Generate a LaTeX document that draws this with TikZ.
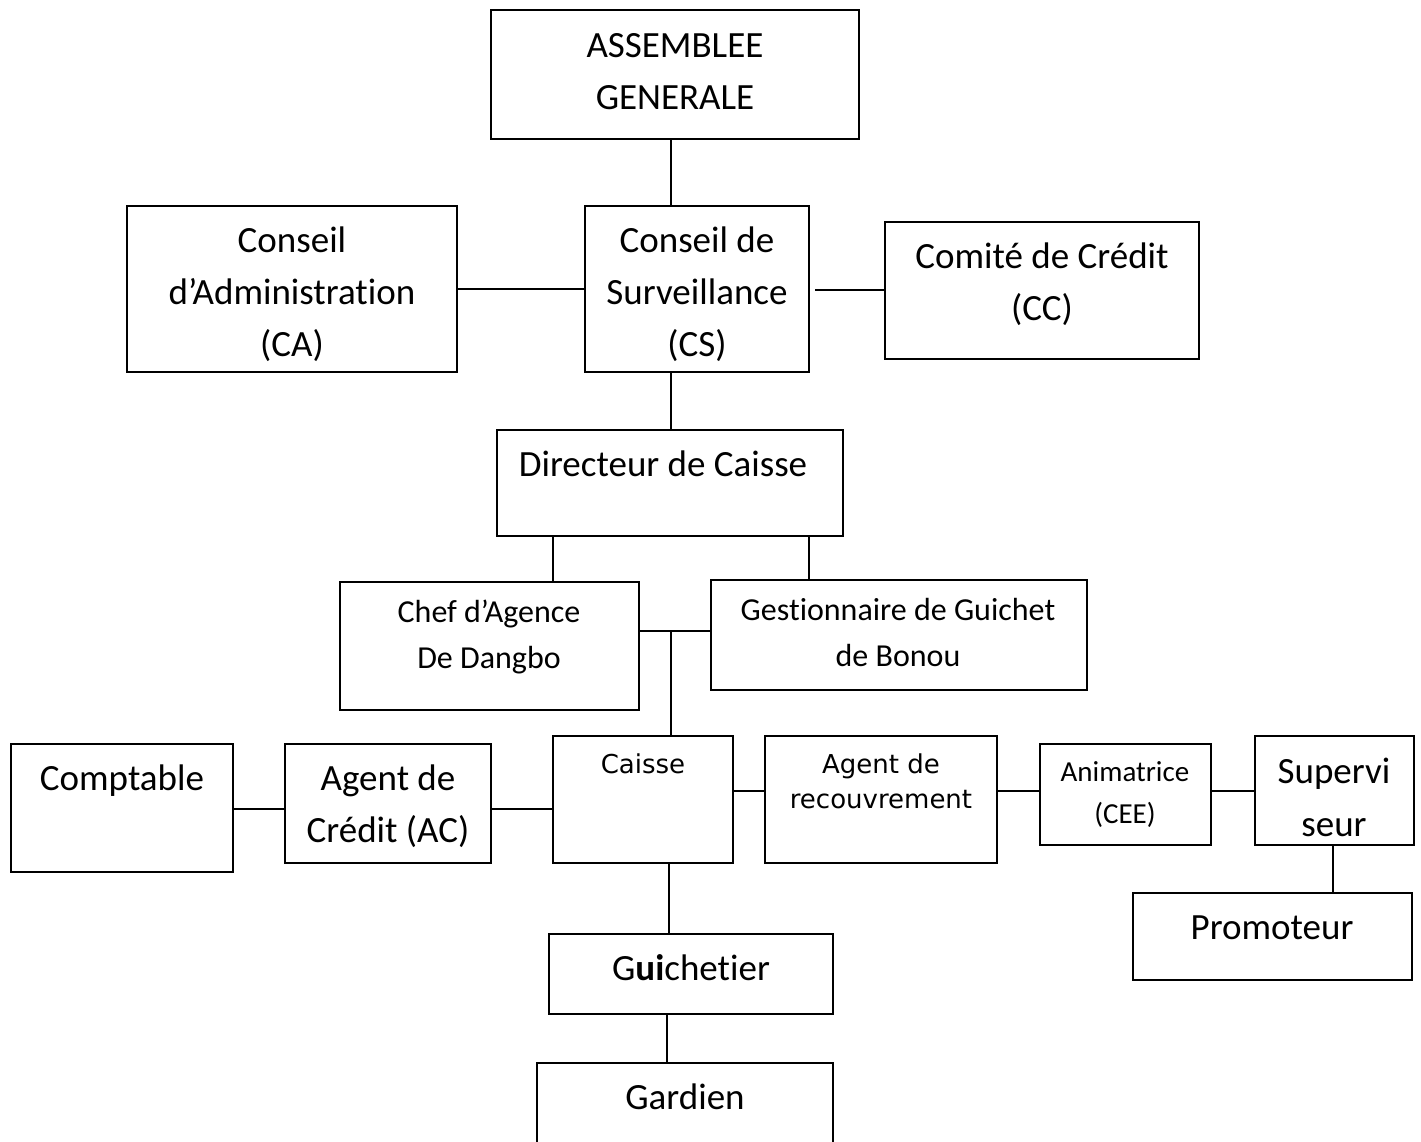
\documentclass[tikz,border=0pt]{standalone}
\usepackage{fontspec}
\newfontfamily\calfnt[Ligatures=NoCommon]{Carlito}
\newfontfamily\verfnt{DejaVu Sans}
\begin{document}
\begin{tikzpicture}[x=0.5pt,y=-0.5pt,
  box/.style={draw=black,line width=1pt,rectangle,inner sep=0pt,outer sep=0pt},
  conn/.style={draw=black,line width=1pt},
  big/.style={anchor=base,inner sep=0pt,font=\calfnt\fontsize{18.5}{22}\selectfont},
  mid/.style={anchor=base,inner sep=0pt,font=\calfnt\fontsize{16}{20}\selectfont},
  sml/.style={anchor=base,inner sep=0pt,font=\calfnt\fontsize{14.5}{18}\selectfont},
  ver/.style={anchor=base,inner sep=0pt,font=\verfnt\fontsize{13}{16}\selectfont}]
\newcommand{\mybox}[5]{\node[box,minimum width={(#4-#2)*0.5pt},minimum height={(#5-#3)*0.5pt}] (#1) at ({(#2+#4)/2},{(#3+#5)/2}) {};}
\fill[white] (0,0) rectangle (1421,1142);
\useasboundingbox (0,0) rectangle (1421,1142);
% boxes
\mybox{ag}{491}{10}{859}{139}
\mybox{ca}{127}{206}{457}{372}
\mybox{cs}{585}{206}{809}{372}
\mybox{cc}{885}{222}{1199}{359}
\mybox{dc}{497}{430}{843}{536}
\mybox{cad}{340}{582}{639}{710}
\mybox{ggb}{711}{580}{1087}{690}
\mybox{comp}{11}{744}{233}{872}
\mybox{ac}{285}{744}{491}{863}
\mybox{caisse}{553}{736}{733}{863}
\mybox{ar}{765}{736}{997}{863}
\mybox{anim}{1040}{744}{1211}{845}
\mybox{sup}{1255}{736}{1414}{845}
\mybox{prom}{1133}{893}{1412}{980}
\mybox{gui}{549}{934}{833}{1014}
\mybox{gar}{537}{1063}{833}{1170}
% texts
\node[big] (tag1) at (675,57) {ASSEMBLEE};
\node[big] (tag2) at (675,109) {GENERALE};
\node[big] (tca1) at (292,252) {Conseil};
\node[big] (tca2) at (292,304) {d’Administration};
\node[big] (tca3) at (292,356) {(CA)};
\node[big] (tcs1) at (697,252) {Conseil de};
\node[big] (tcs2) at (697,304) {Surveillance};
\node[big] (tcs3) at (697,356) {(CS)};
\node[big] (tcc1) at (1042,268) {Comité de Crédit};
\node[big] (tcc2) at (1042,320) {(CC)};
\node[big] (tdc) at (663,476) {Directeur de Caisse};
\node[mid] (tcad1) at (489,622) {Chef d’Agence};
\node[mid] (tcad2) at (489,668) {De Dangbo};
\node[mid] (tggb1) at (898,620) {Gestionnaire de Guichet};
\node[mid] (tggb2) at (898,666) {de Bonou};
\node[big] (tcomp) at (122,790) {Comptable};
\node[big] (tac1) at (388,790) {Agent de};
\node[big] (tac2) at (388,842) {Crédit (AC)};
\node[ver] (tcaisse) at (643,773) {Caisse};
\node[ver] (tar1) at (881,773) {Agent de};
\node[ver] (tar2) at (881,808) {recouvrement};
\node[sml] (tan1) at (1125,781) {Animatrice};
\node[sml] (tan2) at (1125,823) {(CEE)};
\node[big] (tsup1) at (1334,783) {Supervi};
\node[big] (tsup2) at (1334,836) {seur};
\node[big] (tprom) at (1272,939) {Promoteur};
\node[big] (tgui) at (691,980) {G\textbf{ui}chetier};
\node[big] (tgar) at (685,1109) {Gardien};
% connector coordinates
\coordinate (v1) at (671,0);
\coordinate (v2) at (553,0);
\coordinate (v3) at (809,0);
\coordinate (j) at (671,631);
\coordinate (h1) at (0,791);
\coordinate (h2) at (0,809);
\coordinate (v4) at (1333,0);
\coordinate (v5) at (669,0);
\coordinate (v6) at (667,0);
\coordinate (ccs) at (815,290);
% connectors
\draw[conn] (ag.south -| v1) -- (cs.north -| v1);
\draw[conn] (cs.south -| v1) -- (dc.north -| v1);
\draw[conn] (ca.east) -- (cs.west);
\draw[conn] (ccs) -- (cc.west |- ccs);
\draw[conn] (dc.south -| v2) -- (cad.north -| v2);
\draw[conn] (dc.south -| v3) -- (ggb.north -| v3);
\draw[conn] (cad.east |- j) -- (ggb.west |- j);
\draw[conn] (j) -- (caisse.north -| j);
\draw[conn] (caisse.east |- h1) -- (ar.west |- h1);
\draw[conn] (ar.east |- h1) -- (anim.west |- h1);
\draw[conn] (anim.east |- h1) -- (sup.west |- h1);
\draw[conn] (sup.south -| v4) -- (prom.north -| v4);
\draw[conn] (comp.east |- h2) -- (ac.west |- h2);
\draw[conn] (ac.east |- h2) -- (caisse.west |- h2);
\draw[conn] (caisse.south -| v5) -- (gui.north -| v5);
\draw[conn] (gui.south -| v6) -- (gar.north -| v6);
\end{tikzpicture}
\end{document}
